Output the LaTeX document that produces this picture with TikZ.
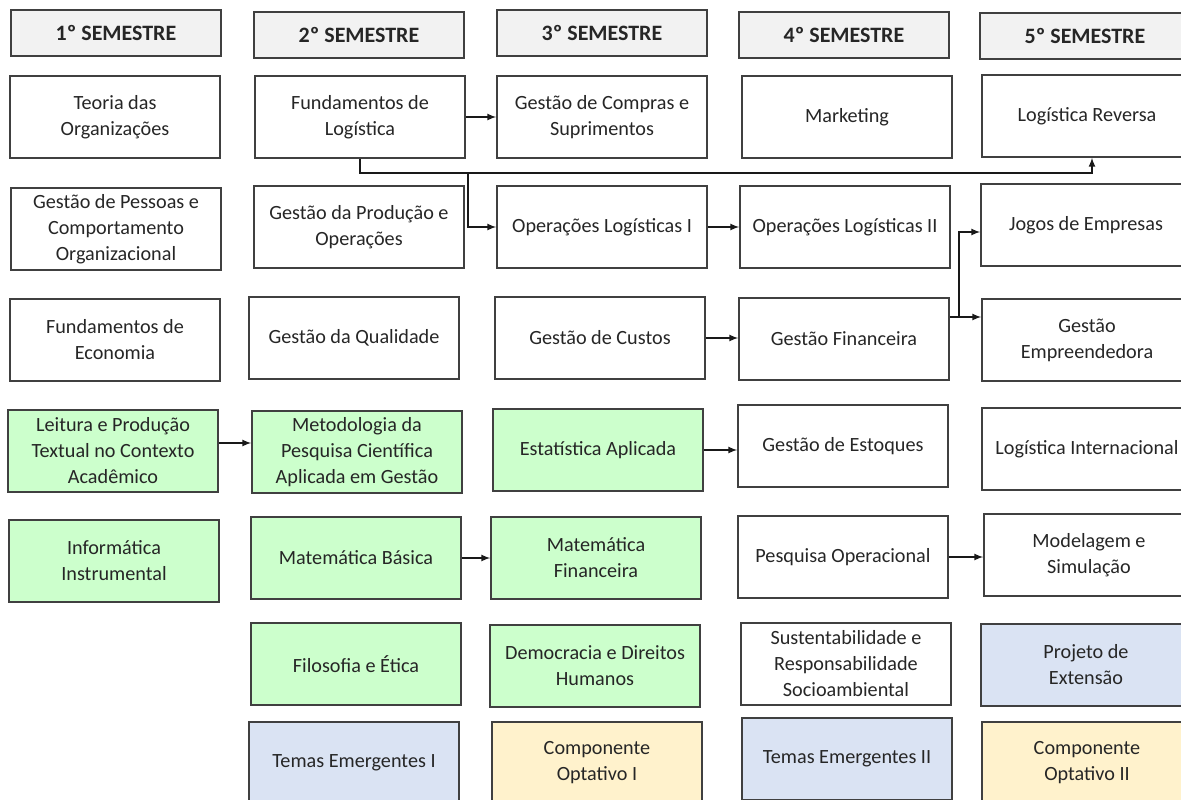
\documentclass[tikz,border=0pt]{standalone}
\usepackage{fontspec}
\setmainfont{Carlito}
\usepackage{xcolor}
\usetikzlibrary{arrows,calc}

\definecolor{cabeca}{HTML}{F2F2F2}
\definecolor{verde}{HTML}{CCFFCC}
\definecolor{azul}{HTML}{DAE3F3}
\definecolor{amarelo}{HTML}{FFF2CC}
\definecolor{borda}{HTML}{404040}

\tikzset{
  disciplina/.style={draw=borda, line width=0.9pt, fill=white, align=center,
    minimum width=4.2cm, minimum height=1.64cm, inner sep=2pt,
    text=black!85, font=\fontsize{11.5}{14.8}\selectfont},
  semestre/.style={disciplina, fill=cabeca, minimum height=0.92cm,
    font=\fontsize{12.5}{14}\selectfont\bfseries},
  nucleo/.style={disciplina, fill=verde},
  extensao/.style={disciplina, fill=azul},
  optativo/.style={disciplina, fill=amarelo},
  liga/.style={-latex, line width=0.75pt, black!90}
}

\begin{document}
\begin{tikzpicture}[x=0.02cm, y=-0.02cm]
  \useasboundingbox (0,0) rectangle (1181,799);
  \clip (0,0) rectangle (1181,799);

  % cabecalhos dos semestres
  \node[semestre] (h1) at (116,33) {1º SEMESTRE};
  \node[semestre] (h2) at (359,35) {2º SEMESTRE};
  \node[semestre] (h3) at (602,33) {3º SEMESTRE};
  \node[semestre] (h4) at (844,35) {4º SEMESTRE};
  \node[semestre] (h5) at (1085,36) {5º SEMESTRE};

  % 1o semestre
  \node[disciplina] (teoria) at (115,117) {Teoria das\\Organizações};
  \node[disciplina] (pessoas) at (116,229) {Gestão de Pessoas e\\Comportamento\\Organizacional};
  \node[disciplina] (economia) at (115,340) {Fundamentos de\\Economia};
  \node[nucleo] (leitura) at (113,451) {Leitura e Produção\\Textual no Contexto\\Acadêmico};
  \node[nucleo] (informatica) at (114,561) {Informática\\Instrumental};

  % 2o semestre
  \node[disciplina] (fundlog) at (360,117) {Fundamentos de\\Logística};
  \node[disciplina] (producao) at (359,227) {Gestão da Produção e\\Operações};
  \node[disciplina] (qualidade) at (354,338) {Gestão da Qualidade};
  \node[nucleo] (metodologia) at (357,452) {Metodologia da\\Pesquisa Científica\\Aplicada em Gestão};
  \node[nucleo] (matbasica) at (356,558) {Matemática Básica};
  \node[nucleo] (filosofia) at (356,664) {Filosofia e Ética};
  \node[extensao] (temas1) at (354,763) {Temas Emergentes I};

  % 3o semestre
  \node[disciplina] (compras) at (602,117) {Gestão de Compras e\\Suprimentos};
  \node[disciplina] (oplog1) at (602,227) {Operações Logísticas I};
  \node[disciplina] (custos) at (600,338) {Gestão de Custos};
  \node[nucleo] (estatistica) at (598,450) {Estatística Aplicada};
  \node[nucleo] (matfin) at (596,558) {Matemática\\Financeira};
  \node[nucleo] (democracia) at (595,666) {Democracia e Direitos\\Humanos};
  \node[optativo] (optativo1) at (597,763) {Componente\\Optativo I};

  % 4o semestre
  \node[disciplina] (marketing) at (847,117) {Marketing};
  \node[disciplina] (oplog2) at (845,227) {Operações Logísticas II};
  \node[disciplina] (gfin) at (844,339) {Gestão Financeira};
  \node[disciplina] (estoques) at (843,446) {Gestão de Estoques};
  \node[disciplina] (pesqop) at (843,557) {Pesquisa Operacional};
  \node[disciplina] (sustent) at (846,664) {Sustentabilidade e\\Responsabilidade\\Socioambiental};
  \node[extensao] (temas2) at (847,759) {Temas Emergentes II};

  % 5o semestre
  \node[disciplina] (logrev) at (1087,116) {Logística Reversa};
  \node[disciplina] (jogos) at (1086,225) {Jogos de Empresas};
  \node[disciplina] (gempr) at (1087,340) {Gestão\\Empreendedora};
  \node[disciplina] (loginter) at (1087,449) {Logística Internacional};
  \node[disciplina] (modelagem) at (1089,555) {Modelagem e\\Simulação};
  \node[extensao] (projeto) at (1086,665) {Projeto de\\Extensão};
  \node[optativo] (optativo2) at (1087,763) {Componente\\Optativo II};

  % pre-requisitos
  \coordinate (jl) at (1092,173);
  \coordinate (jo) at (468,173);
  \coordinate (jg) at (959,317);
  \coordinate (jj) at (959,232);
  \coordinate (la) at ($(leitura.east)+(0,-8)$);
  \draw[liga] (fundlog) -- (compras);
  \draw[liga] (fundlog.south) |- (jl) -- (jl |- logrev.south);
  \draw[liga] (jo) |- (oplog1.west);
  \draw[liga] (oplog1) -- (oplog2);
  \draw[liga] (custos.east) -- (custos.east -| gfin.west);
  \draw[liga] (gfin.east |- jg) -- (jg) -- (jg -| gempr.west);
  \draw[liga] (jg) -- (jj) -- (jj -| jogos.west);
  \draw[liga] (la) -- (la -| metodologia.west);
  \draw[liga] (estatistica.east) -- (estatistica.east -| estoques.west);
  \draw[liga] (matbasica) -- (matfin);
  \draw[liga] (pesqop.east) -- (pesqop.east -| modelagem.west);
\end{tikzpicture}
\end{document}
